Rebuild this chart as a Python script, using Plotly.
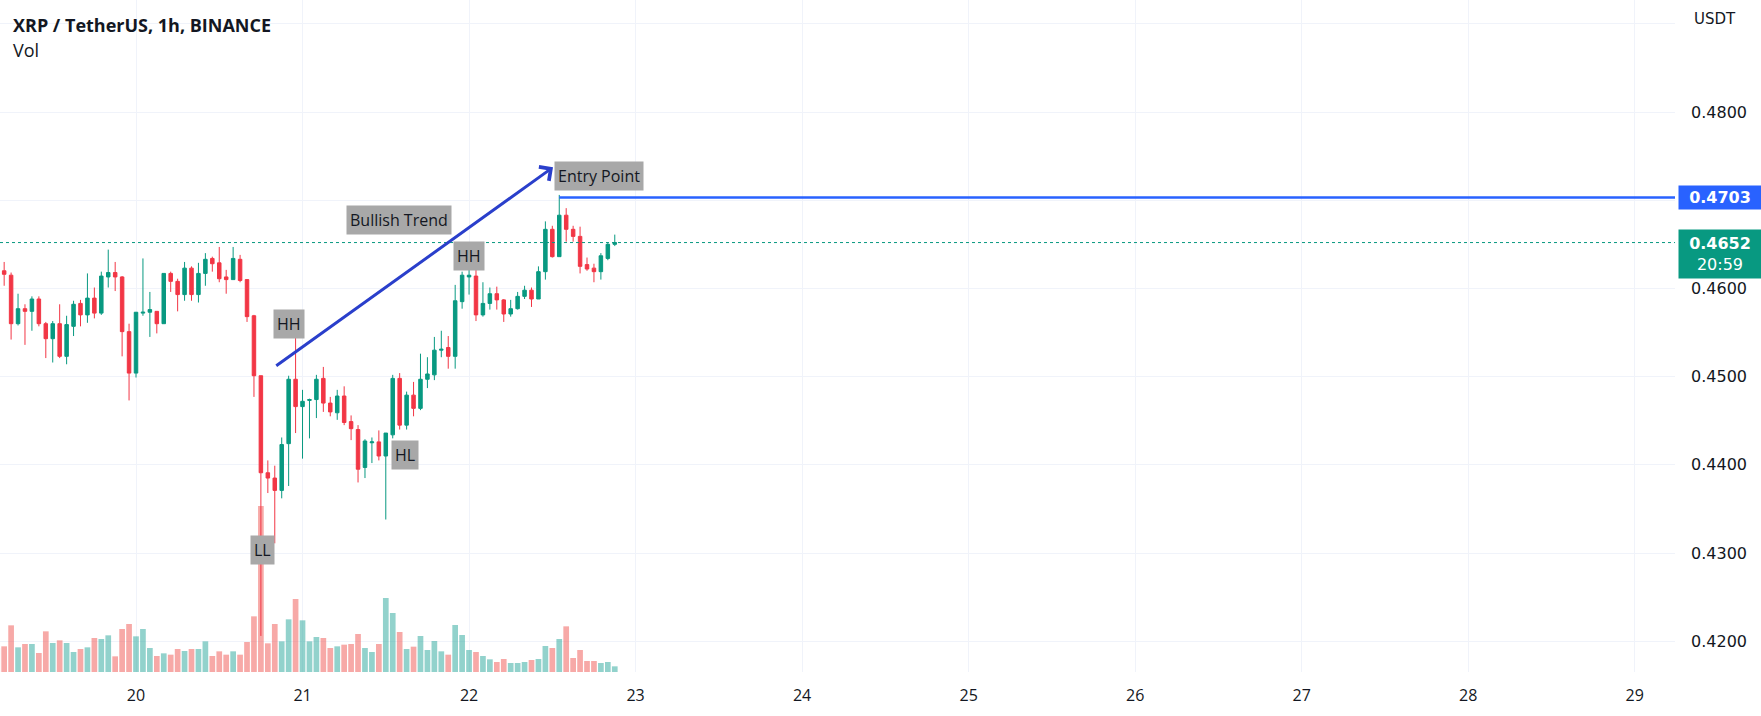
import pandas as pd
import plotly.graph_objects as go

# hourly XRP/USDT candles, first bar 19th 04:00
start = "2023-05-19 04:00"
opens = [0.4626, 0.4620, 0.4615, 0.4560, 0.4577, 0.4574, 0.4588, 0.4560, 0.4543, 0.4560,
         0.4523, 0.4557, 0.4583, 0.4570, 0.4589, 0.4572, 0.4613, 0.4618, 0.4613, 0.4551,
         0.4504, 0.4572, 0.4573, 0.4574, 0.4560, 0.4617, 0.4608, 0.4593, 0.4623, 0.4593,
         0.4617, 0.4634, 0.4629, 0.4613, 0.4610, 0.4633, 0.4610, 0.4569, 0.4501, 0.4391,
         0.4385, 0.4371, 0.4424, 0.4497, 0.4466, 0.4473, 0.4474, 0.4498, 0.4470, 0.4459,
         0.4478, 0.4449, 0.4440, 0.4397, 0.4425, 0.4426, 0.4410, 0.4434, 0.4498, 0.4445,
         0.4479, 0.4464, 0.4497, 0.4502, 0.4530, 0.4533, 0.4523, 0.4585, 0.4613, 0.4614,
         0.4570, 0.4583, 0.4594, 0.4587, 0.4571, 0.4577, 0.4591, 0.4598, 0.4588, 0.4619,
         0.4667, 0.4636, 0.4683, 0.4667, 0.4659, 0.4627, 0.4623, 0.4619, 0.4634, 0.4650]
highs = [0.4629, 0.4630, 0.4618, 0.4594, 0.4582, 0.4591, 0.4591, 0.4562, 0.4563, 0.4582,
         0.4569, 0.4586, 0.4587, 0.4617, 0.4601, 0.4619, 0.4644, 0.4630, 0.4614, 0.4560,
         0.4573, 0.4634, 0.4596, 0.4574, 0.4617, 0.4619, 0.4611, 0.4630, 0.4625, 0.4629,
         0.4640, 0.4636, 0.4647, 0.4621, 0.4647, 0.4638, 0.4610, 0.4570, 0.4501, 0.4405,
         0.4399, 0.4431, 0.4501, 0.4547, 0.4485, 0.4475, 0.4502, 0.4511, 0.4477, 0.4485,
         0.4489, 0.4456, 0.4445, 0.4429, 0.4431, 0.4439, 0.4436, 0.4502, 0.4504, 0.4483,
         0.4494, 0.4526, 0.4522, 0.4545, 0.4552, 0.4546, 0.4604, 0.4619, 0.4629, 0.4630,
         0.4607, 0.4601, 0.4602, 0.4588, 0.4587, 0.4596, 0.4603, 0.4601, 0.4625, 0.4676,
         0.4671, 0.4706, 0.4691, 0.4671, 0.4670, 0.4635, 0.4628, 0.4640, 0.4652, 0.4661]
lows = [0.4617, 0.4603, 0.4542, 0.4558, 0.4536, 0.4552, 0.4557, 0.4521, 0.4516, 0.4521,
        0.4514, 0.4546, 0.4557, 0.4561, 0.4566, 0.4570, 0.4601, 0.4597, 0.4523, 0.4473,
        0.4499, 0.4569, 0.4545, 0.4549, 0.4560, 0.4596, 0.4574, 0.4586, 0.4586, 0.4584,
        0.4603, 0.4619, 0.4607, 0.4594, 0.4610, 0.4607, 0.4562, 0.4477, 0.4206, 0.4368,
        0.4311, 0.4362, 0.4376, 0.4436, 0.4407, 0.4430, 0.4453, 0.4460, 0.4455, 0.4451,
        0.4445, 0.4428, 0.4380, 0.4385, 0.4402, 0.4405, 0.4338, 0.4430, 0.4440, 0.4440,
        0.4455, 0.4462, 0.4487, 0.4496, 0.4522, 0.4509, 0.4509, 0.4577, 0.4593, 0.4563,
        0.4568, 0.4576, 0.4576, 0.4562, 0.4568, 0.4576, 0.4588, 0.4579, 0.4588, 0.4610,
        0.4635, 0.4636, 0.4653, 0.4653, 0.4617, 0.4620, 0.4607, 0.4610, 0.4632, 0.4648]
closes = [0.4622, 0.4616, 0.4560, 0.4577, 0.4574, 0.4588, 0.4560, 0.4543, 0.4560, 0.4523,
          0.4559, 0.4582, 0.4570, 0.4589, 0.4572, 0.4614, 0.4618, 0.4613, 0.4551, 0.4504,
          0.4573, 0.4573, 0.4576, 0.4560, 0.4617, 0.4608, 0.4593, 0.4623, 0.4593, 0.4617,
          0.4633, 0.4628, 0.4611, 0.4610, 0.4634, 0.4609, 0.4568, 0.4501, 0.4391, 0.4385,
          0.4371, 0.4423, 0.4497, 0.4466, 0.4472, 0.4474, 0.4497, 0.4470, 0.4460, 0.4478,
          0.4448, 0.4441, 0.4395, 0.4427, 0.4426, 0.4410, 0.4436, 0.4498, 0.4445, 0.4479,
          0.4464, 0.4497, 0.4503, 0.4530, 0.4531, 0.4523, 0.4586, 0.4615, 0.4615, 0.4570,
          0.4583, 0.4594, 0.4587, 0.4571, 0.4577, 0.4591, 0.4598, 0.4588, 0.4619, 0.4667,
          0.4636, 0.4683, 0.4667, 0.4659, 0.4625, 0.4622, 0.4619, 0.4637, 0.4650, 0.4652]
volumes = [72, 77, 140, 74, 84, 84, 57, 122, 87, 95,
           87, 60, 69, 74, 102, 99, 110, 47, 129, 144,
           107, 129, 72, 48, 56, 52, 69, 63, 69, 69,
           92, 48, 62, 52, 62, 52, 90, 167, 498, 86,
           144, 92, 158, 219, 155, 92, 105, 102, 72, 77,
           82, 84, 114, 72, 60, 84, 222, 177, 120, 69,
           76, 108, 66, 93, 62, 52, 141, 111, 66, 60,
           48, 38, 30, 39, 27, 27, 30, 36, 39, 78,
           72, 99, 137, 42, 66, 33, 33, 27, 30, 17]

last_price = 0.4652
entry_price = 0.4703
countdown = "20:59"
price_ticks = [0.42, 0.43, 0.44, 0.45, 0.46, 0.47, 0.48, 0.49]
# 0.4700 sits under the entry badge, 0.4900 under the currency label
price_ticktext = ["0.4200", "0.4300", "0.4400", "0.4500", "0.4600", "", "0.4800", ""]

# drawings: hours counted from the 20th 00:00
day0 = pd.Timestamp("2023-05-20")
label_texts = ["Bullish Trend", "HH", "LL", "HL", "HH", "Entry Point"]
label_hours = [37.9, 22.05, 18.2, 38.76, 48.05, 66.7]
label_prices = [0.46776, 0.4560, 0.43034, 0.44111, 0.46367, 0.47274]
trend_hours = [20.0, 60.1]
trend_prices = [0.4511, 0.47373]
entry_hour = 61

times = pd.date_range(start, periods=len(opens), freq="h")
up, down = "#089981", "#f23645"
vol_colors = ["rgba(38,166,154,0.5)" if c >= o else "rgba(239,83,80,0.5)"
              for o, c in zip(opens, closes)]

def at(h):
    return day0 + pd.Timedelta(hours=h)

fig = go.Figure()
fig.add_trace(go.Bar(x=times, y=volumes, marker_color=vol_colors, marker_line_width=0,
                     yaxis="y", hoverinfo="skip"))
fig.add_trace(go.Candlestick(
    x=times, open=opens, high=highs, low=lows, close=closes, yaxis="y2",
    increasing=dict(line=dict(color=up, width=1), fillcolor=up),
    decreasing=dict(line=dict(color=down, width=1), fillcolor=down),
    whiskerwidth=0,
))

# last price dotted line + entry line
fig.add_shape(type="line", xref="paper", x0=0, x1=1, yref="y2", y0=last_price, y1=last_price,
              line=dict(color=up, width=1, dash="dot"))
fig.add_shape(type="line", xref="x", x0=at(entry_hour), x1=at(222), yref="y2",
              y0=entry_price, y1=entry_price, line=dict(color="#2962ff", width=2.5))

# trend arrow
fig.add_annotation(x=at(trend_hours[1]), y=trend_prices[1], ax=at(trend_hours[0]), ay=trend_prices[0],
                   xref="x", yref="y2", axref="x", ayref="y2", text="", showarrow=True,
                   arrowhead=4, arrowsize=1.1, arrowwidth=3, arrowcolor="#2a3fcb", standoff=0)

for t, h, p in zip(label_texts, label_hours, label_prices):
    fig.add_annotation(x=at(h), y=p, xref="x", yref="y2", text=t, showarrow=False,
                       bgcolor="#a8a8a8", borderpad=3,
                       font=dict(size=16, color="#131722", family="Open Sans"))

# price scale badges
fig.add_annotation(xref="paper", x=1, xanchor="left", xshift=3, yref="y2", y=entry_price,
                   text=f"<b>{entry_price:.4f}</b>", showarrow=False, bgcolor="#2962ff",
                   width=76, height=17, borderpad=3,
                   font=dict(size=16, color="white", family="DejaVu Sans"))
fig.add_annotation(xref="paper", x=1, xanchor="left", xshift=3, yref="y2", y=last_price,
                   yanchor="top", yshift=14, text=f"<b>{last_price:.4f}</b><br>{countdown}",
                   showarrow=False, bgcolor=up, width=76, height=42, borderpad=3,
                   font=dict(size=16, color="white", family="DejaVu Sans"))

# header texts
fig.add_annotation(xref="paper", yref="paper", x=0, y=1, xanchor="left", yanchor="top",
                   xshift=11, yshift=-11, text="<b>XRP / TetherUS, 1h, BINANCE</b>",
                   showarrow=False, font=dict(size=18, color="#131722"))
fig.add_annotation(xref="paper", yref="paper", x=0, y=1, xanchor="left", yanchor="top",
                   xshift=11, yshift=-36, text="Vol", showarrow=False,
                   font=dict(size=18, color="#131722"))
fig.add_annotation(xref="paper", yref="paper", x=1, y=1, xanchor="left", yanchor="top",
                   xshift=17, yshift=-8, text="USDT", showarrow=False,
                   font=dict(size=15, color="#131722", family="DejaVu Sans"))

fig.update_layout(
    width=1761, height=716,
    margin=dict(l=0, r=86, t=0, b=44),
    paper_bgcolor="white", plot_bgcolor="white",
    showlegend=False, bargap=0.18, boxgap=0.28,
    font=dict(family="Open Sans", color="#131722"),
    xaxis=dict(type="date", range=[at(-19.6), at(221.8)], rangeslider=dict(visible=False),
               dtick=86400000, tickformat="%-d", showgrid=True, gridcolor="#f0f3fa",
               zeroline=False, showline=False, ticks="", ticklabelstandoff=12,
               tickfont=dict(size=16, color="#131722")),
    yaxis=dict(range=[0, 2016], visible=False, showgrid=False),
    yaxis2=dict(overlaying="y", side="right", range=[0.41651, 0.49270],
                tickmode="array", tickvals=price_ticks, ticktext=price_ticktext,
                showgrid=True, gridcolor="#f0f3fa", zeroline=False, showline=False,
                ticks="", ticklabelstandoff=15,
                tickfont=dict(size=16, color="#131722", family="DejaVu Sans")),
)

fig.write_html("out.html", config={"displayModeBar": False},
               post_script="document.body.style.margin='0';")
